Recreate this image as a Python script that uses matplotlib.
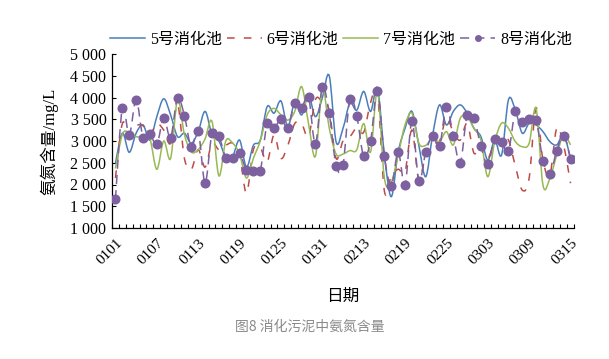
import matplotlib
matplotlib.use("Agg")
import matplotlib.pyplot as plt
from matplotlib.path import Path
from matplotlib.patches import PathPatch
from matplotlib.lines import Line2D
import numpy as np

# ---------------- data ----------------
tick_labels = ["0101", "0107", "0113", "0119", "0125", "0131", "0213",
               "0219", "0225", "0303", "0309", "0315"]
tick_index = [0, 6, 12, 18, 24, 30, 36, 42, 48, 54, 60, 66]

s5 = [2490, 3180, 2740, 3180, 3370, 3020, 3560, 3970, 3600, 3100,
      3180, 2950, 3215, 3680, 3150, 3000, 2640, 2650, 3020, 2400,
      2900, 3020, 3790, 3640, 3920, 3330, 3900, 3600, 4050, 3560,
      3990, 4500, 2980, 3290, 3870, 3710, 4140, 3680, 4210, 2680,
      1720, 2750, 3290, 3680, 2900, 2180, 3140, 3830, 3370, 3680,
      3830, 3640, 3290, 3100, 2560, 3020, 2680, 3950, 3710, 3180,
      3410, 3370, 3215, 2985, 2910, 3140, 2600]

s6 = [2150, 3400, 3150, 3350, 3350, 3150, 3400, 3250, 2950, 3850,
      2600, 2350, 2800, 2400, 2950, 2800, 2900, 2950, 2700, 1800,
      2800, 2850, 2520, 3140, 2600, 2900, 3400, 3400, 3100, 3950,
      3900, 3700, 2600, 3000, 3100, 3300, 3200, 3880, 4100, 1850,
      2200, 2350, 2300, 3250, 2100, 2700, 2950, 3000, 3530, 3200,
      3020, 3400, 2720, 2900, 2600, 3000, 3100, 3020, 2420, 1870,
      2150, 3760, 2560, 2220, 3300, 2900, 2030]

s7 = [2370, 3150, 3200, 3100, 3100, 3050, 2350, 3000, 2600, 3950,
      3150, 2750, 2800, 3050, 3450, 2200, 3000, 2950, 2700, 2150,
      2600, 3000, 3600, 3750, 3600, 3480, 3680, 4250, 3400, 2650,
      4200, 3300, 2700, 2700, 2780, 2800, 3400, 2750, 4150, 2150,
      2060, 2680, 3370, 3640, 2950, 2900, 3070, 2985, 3215, 2910,
      3520, 3560, 3290, 3020, 2180, 2985, 3410, 3290, 2985, 2870,
      2950, 3750, 1985, 2140, 2680, 3140, 2910]

s8 = [1660, 3760, 3140, 3950, 3080, 3160, 2920, 3530, 3080, 4000,
      3580, 2860, 3240, 2040, 3180, 3120, 2600, 2600, 2720, 2330,
      2310, 2310, 3410, 3290, 3510, 3310, 3870, 3770, 4010, 2930,
      4240, 3640, 2430, 2450, 3970, 3570, 2650, 3010, 4150, 2650,
      1970, 2750, 1985, 3460, 2080, 2750, 3120, 2885, 3790, 3116,
      2490, 3600, 3520, 2880, 2470, 3050, 2970, 2770, 3680, 3430,
      3510, 3490, 2550, 2230, 2780, 3120, 2590]

names = ["5号消化池", "6号消化池", "7号消化池", "8号消化池"]
colors = ["#4a7ebb", "#be4b48", "#98b954", "#7d60a0"]

# ---------------- fonts ----------------
serif_cjk = ["Liberation Serif", "Noto Sans CJK SC"]
plt.rcParams["font.family"] = serif_cjk
plt.rcParams["axes.unicode_minus"] = False

fig = plt.figure(figsize=(6.09, 3.59), dpi=100)
ax = fig.add_axes([112 / 609, 1 - 228 / 359, 462 / 609, 174 / 359])

x = np.arange(len(s5))


def smooth_path(xs, ys):
    """Catmull-Rom style Bezier path through the data points (Excel smoothing)."""
    xs = np.asarray(xs, float)
    ys = np.asarray(ys, float)
    n = len(xs)
    verts = [(xs[0], ys[0])]
    codes = [Path.MOVETO]
    t = 1.0 / 6.0
    for i in range(n - 1):
        p0 = (xs[max(i - 1, 0)], ys[max(i - 1, 0)])
        p1 = (xs[i], ys[i])
        p2 = (xs[i + 1], ys[i + 1])
        p3 = (xs[min(i + 2, n - 1)], ys[min(i + 2, n - 1)])
        c1 = (p1[0] + (p2[0] - p0[0]) * t, p1[1] + (p2[1] - p0[1]) * t)
        c2 = (p2[0] - (p3[0] - p1[0]) * t, p2[1] - (p3[1] - p1[1]) * t)
        verts += [c1, c2, p2]
        codes += [Path.CURVE4] * 3
    return Path(verts, codes)


dash_styles = [None, (5, 6), None, (6, 4)]

for k, s in enumerate([s5, s6, s7, s8]):
    patch = PathPatch(smooth_path(x, s), facecolor="none", edgecolor=colors[k],
                      lw=1.1, zorder=2 + k)
    if dash_styles[k] is not None:
        patch.set_linestyle((0, dash_styles[k]))
    ax.add_patch(patch)

ax.plot(x, s8, ls="none", marker="o", ms=6.2, color=colors[3],
        markeredgecolor=colors[3], zorder=10)

ax.set_xlim(-0.5, len(s5) - 0.5)
ax.set_ylim(1000, 5000)
yt = np.arange(1000, 5001, 500)
ax.set_yticks(yt)
ax.set_yticklabels([f"{v // 1000} {v % 1000:03d}" for v in yt], fontsize=11.5)
ax.set_xticks(tick_index)
ax.set_xticklabels(tick_labels, rotation=45, ha="right", va="top",
                   rotation_mode="anchor", fontsize=11)
ax.set_xticks(np.arange(-0.5, len(s5)), minor=True)
ax.tick_params(axis="x", which="major", length=0, pad=6)
ax.tick_params(axis="x", which="minor", direction="in", length=3, width=0.8)
ax.tick_params(axis="y", direction="in", length=3, width=0.8, pad=4)
for sp in ["top", "right"]:
    ax.spines[sp].set_visible(False)
for sp in ["left", "bottom"]:
    ax.spines[sp].set_linewidth(0.9)

ax.set_ylabel("氨氮含量/mg/L", fontsize=12, labelpad=9)
ax.set_xlabel("日期", fontsize=12, labelpad=16)

handles = [
    Line2D([], [], color=colors[0], lw=1.1),
    Line2D([], [], color=colors[1], lw=1.1, ls=(0, (5, 6))),
    Line2D([], [], color=colors[2], lw=1.1),
    Line2D([], [], color=colors[3], lw=1.1, ls=(0, (6, 4)), marker="o", ms=4),
]
fig.legend(handles, names, loc="center", bbox_to_anchor=(341 / 609, 1 - 40 / 359),
           ncol=4, frameon=False, fontsize=11.5, handlelength=2.2,
           handletextpad=0.3, columnspacing=0.3, borderaxespad=0)

fig.text(310 / 609, 1 - 327 / 359, "图8 消化污泥中氨氮含量", ha="center", va="center",
         fontsize=10, color="#8a8a8a", family=["Noto Sans CJK SC", "DejaVu Sans"])

fig.savefig("out.png", dpi=100)
